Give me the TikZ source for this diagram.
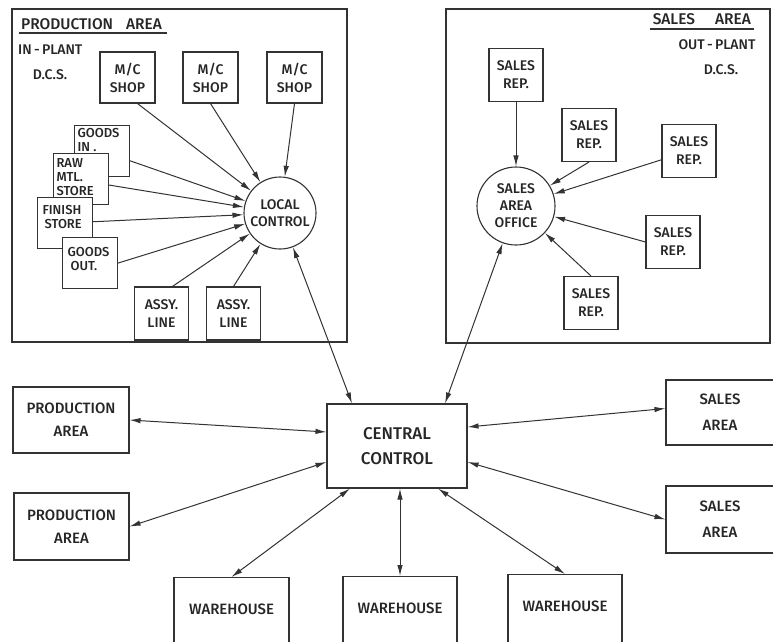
\documentclass[tikz,border=0pt]{standalone}
\usepackage{fontspec}
\setmainfont{Fira Sans}[BoldFont={Fira Sans Medium}]
\usetikzlibrary{arrows.meta,positioning}

% text block sitting in the upper part of a stacked store box
\newcommand{\stacktext}[2]{\parbox[c][45pt][t]{49pt}{\raggedright\vspace*{#1}#2}}

\begin{document}
\begin{tikzpicture}[x=1pt,y=-1pt,
  every node/.style={text=black!85},
  areaframe/.style={draw=black!80,line width=1.4pt},
  box/.style={draw=black!80,line width=1.1pt,fill=white,align=center,inner sep=0pt,
    minimum width=54pt,minimum height=53pt,font=\bfseries\fontsize{14}{18}\selectfont},
  stackbox/.style={draw=black!80,line width=1.1pt,fill=white,anchor=north west,inner sep=3pt,
    font=\bfseries\fontsize{13}{14}\selectfont},
  hub/.style={circle,draw=black!80,line width=1.1pt,fill=white,align=center,inner sep=0pt,
    font=\bfseries\fontsize{14}{17}\selectfont},
  bigbox/.style={draw=black!80,line width=1.1pt,align=center,inner sep=0pt,
    font=\bfseries\fontsize{15}{23}\selectfont},
  heading/.style={inner sep=0pt,font=\bfseries\fontsize{14}{16}\selectfont},
  link/.style={draw=black!80,line width=1pt,-{Latex[length=11pt,width=5.5pt]}},
  duplex/.style={link,{Latex[length=11pt,width=5.5pt]}-{Latex[length=11pt,width=5.5pt]}}]

\useasboundingbox (0,0) rectangle (773,641);
\clip (0,0) rectangle (773,641);

% Production area (in-plant)
\draw[areaframe] (12,9) rectangle (347,342);
\node[heading,anchor=base west,font=\bfseries\fontsize{15.5}{17}\selectfont] (ptitle) at (21,29) {PRODUCTION\hspace{13pt}AREA};
\draw[line width=1.6pt,black!80] ([xshift=-2pt,yshift=-4pt]ptitle.base west) -- ([xshift=5pt,yshift=-4pt]ptitle.base east);
\node[heading,anchor=west] (inplant) at (18,50) {IN\,-\,PLANT};
\node[heading] (pdcs) at (50,75) {D.C.S.};

\node[box,minimum width=55pt,minimum height=51pt] (mc1) at (127.5,77.5) {M/C\\SHOP};
\node[box,minimum width=55pt,minimum height=51pt] (mc2) at (210.5,77.5) {M/C\\SHOP};
\node[box,minimum width=55pt,minimum height=51pt] (mc3) at (294.5,77.5) {M/C\\SHOP};

\node[stackbox] (gin) at (74,125) {\stacktext{0pt}{GOODS\\IN .}};
\node[stackbox] (raw) at (53,153) {\stacktext{2pt}{RAW\\MTL.\\STORE}};
\node[stackbox] (fin) at (37,197) {\stacktext{5pt}{\hspace*{2pt}FINISH\\\hspace*{4pt}STORE}};
\node[stackbox] (gout) at (62,237) {\stacktext{7pt}{\hspace*{2pt}GOODS\\\hspace*{5pt}OUT.}};

\node[hub,minimum size=72pt] (lc) at (280,213) {LOCAL\\CONTROL};

\node[box] (as1) at (161.5,313.5) {ASSY.\\LINE};
\node[box] (as2) at (233.5,313.5) {ASSY.\\LINE};

\draw[link] (mc1.-69) -- (lc);
\draw[link] (mc2.south) -- (lc);
\draw[link] (mc3.south) -- (lc);
\draw[link] (gin) -- (lc);
\draw[link] ([yshift=-6pt]raw.east) -- (lc);
\draw[link] (fin) -- (lc);
\draw[link] (gout.east) -- (lc);
\draw[link] (as1.68) -- (lc);
\draw[link] (as2.north) -- (lc);

% Sales area (out-plant)
\draw[areaframe] (446,9) rectangle (770,343);
\node[heading,anchor=base east,font=\bfseries\fontsize{15.5}{17}\selectfont] (stitle) at (751,24) {SALES\hspace{20pt}AREA};
\draw[line width=1.6pt,black!80] ([xshift=-3pt,yshift=-5pt]stitle.base west) -- ([xshift=3pt,yshift=-5pt]stitle.base east);
\node[heading] (outplant) at (717,45) {OUT\,-\,PLANT};
\node[heading] (sdcs) at (721,70) {D.C.S.};

\node[box] (rep1) at (516,75) {SALES\\REP.};
\node[box] (rep2) at (589,135) {SALES\\REP.};
\node[box] (rep3) at (689,151) {SALES\\REP.};
\node[box] (rep4) at (673,242) {SALES\\REP.};
\node[box] (rep5) at (591,303) {SALES\\REP.};

\node[hub,minimum size=78pt] (office) at (516,206) {SALES\\AREA\\OFFICE};

\draw[link] (rep1.south) -- (office);
\draw[link] (rep2.south) -- (office);
\draw[link] (rep3) -- (office);
\draw[link] (rep4.west) -- (office);
\draw[link] (rep5.north) -- (office);

% Central control and its links
\node[bigbox,minimum width=140pt,minimum height=84pt,font=\bfseries\fontsize{17}{25}\selectfont] (cc) at (397,446) {CENTRAL\\CONTROL};

\node[bigbox,minimum width=116pt,minimum height=66pt] (pa1) at (71,420) {PRODUCTION\\AREA};
\node[bigbox,minimum width=115pt,minimum height=67pt] (pa2) at (71.5,526.5) {PRODUCTION\\AREA};
\node[bigbox,minimum width=108pt,minimum height=65pt,font=\bfseries\fontsize{15}{26}\selectfont] (sa1) at (720,412.5) {SALES\\AREA};
\node[bigbox,minimum width=108pt,minimum height=67pt,font=\bfseries\fontsize{15}{26}\selectfont] (sa2) at (720,519.5) {SALES\\AREA};

\node[bigbox,anchor=north,minimum width=115pt,text height=37pt,text depth=47pt] (wh1) at (231.5,577) {WAREHOUSE};
\node[bigbox,anchor=north,minimum width=114pt,text height=37pt,text depth=47pt] (wh2) at (400,576) {WAREHOUSE};
\node[bigbox,anchor=north,minimum width=114pt,text height=37pt,text depth=47pt] (wh3) at (565,574) {WAREHOUSE};

\draw[duplex] ([xshift=-45pt]cc.north) -- (lc);
\draw[duplex] ([xshift=48pt]cc.north) -- (office);
\draw[duplex] ([yshift=14pt]cc.west) -- (pa1.east);
\draw[duplex] ([yshift=-16pt]cc.west) -- (pa2.east);
\draw[duplex] ([yshift=19pt]cc.east) -- ([yshift=4pt]sa1.west);
\draw[duplex] ([yshift=-16pt]cc.east) -- (sa2.west);
\draw[duplex] ([xshift=-47pt]cc.south) -- (wh1.north);
\draw[duplex] (wh2.north |- cc.south) -- (wh2.north);
\draw[duplex] ([xshift=41pt]cc.south) -- (wh3.north);

\end{tikzpicture}
\end{document}
